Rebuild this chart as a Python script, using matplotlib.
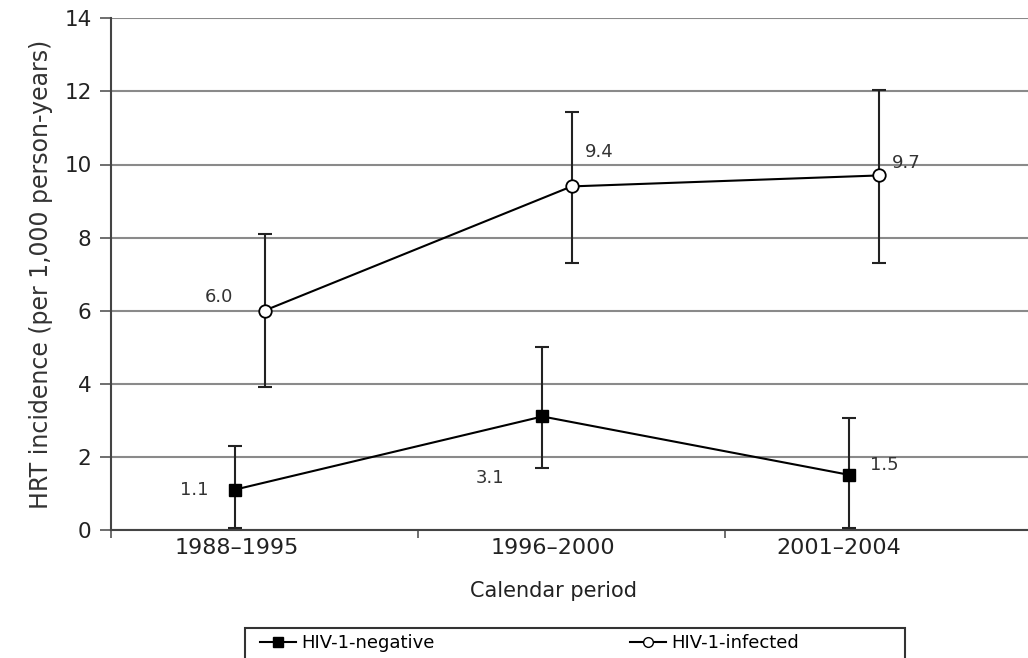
import matplotlib
matplotlib.use("Agg")
from matplotlib import pyplot as plt
from matplotlib.lines import Line2D
from matplotlib.patches import Rectangle

periods = ['1988\u20131995', '1996\u20132000', '2001\u20132004']

neg_rate = [1.1, 3.1, 1.5]
neg_low = [0.05, 1.7, 0.05]
neg_high = [2.3, 5.0, 3.05]

inf_rate = [6.0, 9.4, 9.7]
inf_low = [3.9, 7.3, 7.3]
inf_high = [8.1, 11.45, 12.05]

neg_labels = ['1.1', '3.1', '1.5']
inf_labels = ['6.0', '9.4', '9.7']

plt.rcParams['font.family'] = 'DejaVu Sans'

fig = plt.figure(figsize=(10.28, 6.58), dpi=100)
ax = fig.add_axes([0.108, 0.195, 0.896, 0.777])

x = [0, 1, 2]
neg_x = [i - 0.095 for i in x]

for i in range(3):
    ax.errorbar(neg_x[i], neg_rate[i],
                yerr=[[neg_rate[i] - neg_low[i]], [neg_high[i] - neg_rate[i]]],
                fmt='none', ecolor='#222222', elinewidth=1.5, capsize=5, capthick=1.5, zorder=3)
    ax.errorbar(x[i], inf_rate[i],
                yerr=[[inf_rate[i] - inf_low[i]], [inf_high[i] - inf_rate[i]]],
                fmt='none', ecolor='#222222', elinewidth=1.5, capsize=5, capthick=1.5, zorder=3)

ax.plot(neg_x, neg_rate, color='black', lw=1.5, marker='s', markersize=9,
        markerfacecolor='black', markeredgecolor='black', zorder=4)
ax.plot(x, inf_rate, color='black', lw=1.5, marker='o', markersize=9,
        markerfacecolor='white', markeredgecolor='black', markeredgewidth=1.3, zorder=4)

# value labels
inf_pos = [(-0.15, 6.37), (1.09, 10.34), (2.09, 10.04)]
neg_pos = [(-0.23, 1.09), (0.735, 1.42), (2.02, 1.78)]
for (tx, ty), s in zip(inf_pos, inf_labels):
    ax.text(tx, ty, s, fontsize=13, color='#333333', ha='center', va='center')
for (tx, ty), s in zip(neg_pos, neg_labels):
    ax.text(tx, ty, s, fontsize=13, color='#333333', ha='center', va='center')

ax.set_xlim(-0.5, 2.5)
ax.set_ylim(0, 14)
ax.set_yticks(range(0, 15, 2))
ax.yaxis.grid(True, color='#8a8a8a', lw=1.5)
ax.set_axisbelow(True)

# category boundary ticks, labels slightly left of centre as in the original
ax.set_xticks([-0.5, 0.5, 1.5])
ax.set_xticklabels(['', '', ''])
ax.set_xticks([-0.09, 0.94, 1.87], minor=True)
ax.set_xticklabels(periods, minor=True, fontsize=16, color='#222222')
ax.tick_params(axis='x', which='minor', length=0, pad=6)
ax.tick_params(axis='x', which='major', length=6, width=1.2, color='#555555')
ax.tick_params(axis='y', length=8, width=1.2, color='#555555', labelsize=15.5,
               labelcolor='#222222', pad=6)

for side in ['top', 'right']:
    ax.spines[side].set_visible(False)
ax.spines['left'].set_color('#444444')
ax.spines['bottom'].set_color('#444444')
ax.spines['left'].set_linewidth(1.5)
ax.spines['bottom'].set_linewidth(1.5)

ax.set_xlabel('Calendar period', fontsize=15, color='#222222', labelpad=14)
ax.xaxis.set_label_coords(0.48, -0.1)
ax.set_ylabel('HRT incidence (per 1,000 person-years)', fontsize=17, color='#333333', labelpad=8)

handles = [
    Line2D([0], [0], color='black', lw=1.5, marker='s', markersize=7,
           markerfacecolor='black'),
    Line2D([0], [0], color='black', lw=1.5, marker='o', markersize=7,
           markerfacecolor='white'),
]
fig.legend(handles, ['HIV-1-negative', 'HIV-1-infected'], ncol=2,
           loc='upper left', bbox_to_anchor=(260 / 1028, 1 - 634 / 658),
           frameon=False, fontsize=13, handlelength=2.0, handletextpad=0.3,
           columnspacing=10.8, borderpad=0, borderaxespad=0)
fig.patches.append(Rectangle((245 / 1028, -0.02), 660 / 1028, 0.02 + 30 / 658,
                             transform=fig.transFigure, fill=False,
                             edgecolor='#333333', lw=1.5))

fig.savefig('out.png', dpi=100)
